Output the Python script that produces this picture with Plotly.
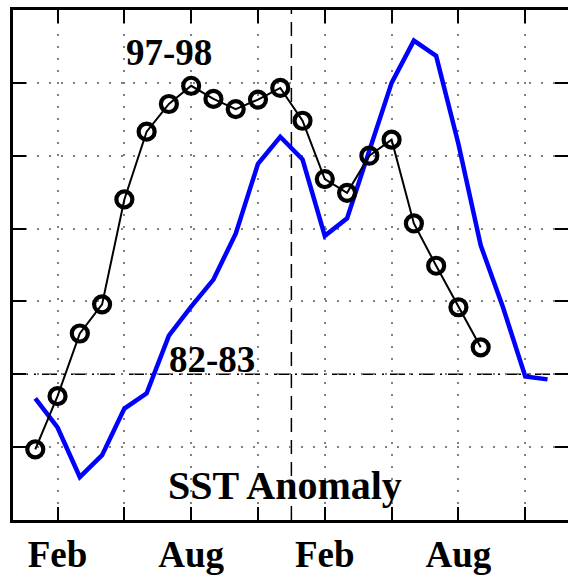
import plotly.graph_objects as go

# ---- data (month index: 1 = Jan of first year) ----
month_ticks = [2, 5, 8, 11, 14, 17, 20, 23]
month_labels = ["Feb", "", "Aug", "", "Feb", "", "Aug", ""]
y_ticks = [-1, 0, 1, 2, 3, 4]

months_8283 = list(range(1, 25))
sst_8283 = [-0.33, -0.73, -1.41, -1.11, -0.47, -0.26, 0.53, 0.93, 1.30, 1.93,
            2.89, 3.26, 2.95, 1.90, 2.14, 3.07, 4.00, 4.58, 4.37, 3.16,
            1.77, 0.92, -0.03, -0.07]

months_9798 = list(range(1, 22))
sst_9798 = [-1.03, -0.30, 0.56, 0.96, 2.40, 3.33, 3.71, 3.96, 3.78, 3.64,
            3.77, 3.93, 3.48, 2.68, 2.49, 3.00, 3.22, 2.07, 1.49, 0.92, 0.37]

year_boundary = 12.5
zero_level = 0

FONT = "Liberation Serif"

fig = go.Figure()
fig.add_trace(go.Scatter(x=months_8283, y=sst_8283, mode="lines",
                         line=dict(color="#0000FF", width=4.5),
                         showlegend=False, hoverinfo="skip"))
fig.add_trace(go.Scatter(x=months_9798, y=sst_9798, mode="lines+markers",
                         line=dict(color="black", width=2),
                         marker=dict(symbol="circle-open", size=16, color="black",
                                     line=dict(width=4.2, color="black")),
                         yaxis="y2", showlegend=False, hoverinfo="skip"))

fig.add_vline(x=year_boundary, line=dict(color="black", width=1.5, dash="14px,8px"), layer="below")
fig.add_hline(y=zero_level, line=dict(color="black", width=1.5, dash="15px,6px,2px,6px"), layer="below")

grid = dict(showgrid=True, gridcolor="#808080", gridwidth=2, griddash="2px,10px")

fig.update_layout(
    width=568, height=576,
    margin=dict(l=13, r=0, t=10, b=56),
    paper_bgcolor="white", plot_bgcolor="white",
    xaxis=dict(range=[0, 24.92], tickmode="array", tickvals=month_ticks, ticktext=month_labels,
               ticks="inside", ticklen=13, tickwidth=2, tickcolor="black",
               showline=True, linewidth=3, linecolor="black", mirror="ticks",
               zeroline=False,
               tickfont=dict(family=FONT, size=37, color="black", weight="bold"),
               **grid),
    yaxis=dict(range=[-2, 5], tickmode="array", tickvals=y_ticks, showticklabels=False,
               ticks="inside", ticklen=13, tickwidth=2, tickcolor="black",
               showline=True, linewidth=3, linecolor="black", zeroline=False,
               **grid),
    yaxis2=dict(overlaying="y", side="right", matches="y", tickmode="array", tickvals=y_ticks,
                showticklabels=False, ticks="inside", ticklen=13, tickwidth=2, tickcolor="black",
                showline=False, showgrid=False, zeroline=False),
    annotations=[
        dict(x=7, y=4.42, xref="x", yref="y", text="97-98", showarrow=False,
             font=dict(family=FONT, size=37, color="black", weight="bold")),
        dict(x=8.94, y=0.2, xref="x", yref="y", text="82-83", showarrow=False,
             font=dict(family=FONT, size=37, color="black", weight="bold")),
        dict(x=12.2, y=-1.52, xref="x", yref="y", text="SST Anomaly", showarrow=False,
             font=dict(family=FONT, size=40, color="black", weight="bold")),
    ],
)

fig.write_html("out.html")
